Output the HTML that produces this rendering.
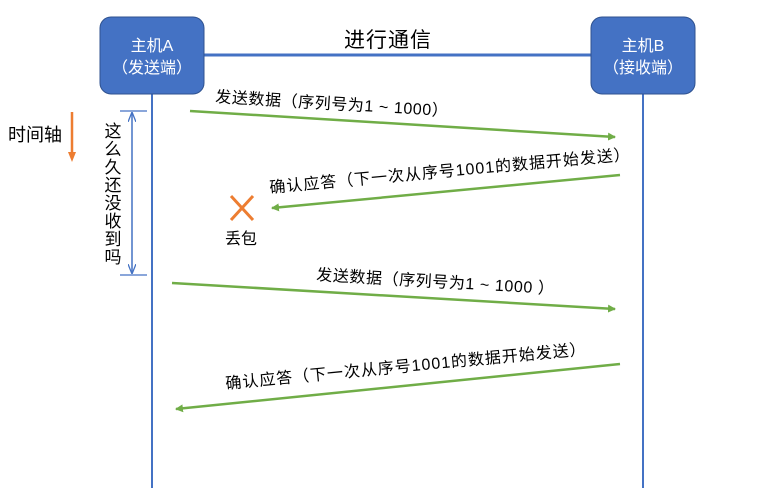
<!DOCTYPE html>
<html><head><meta charset="utf-8"><style>
html,body{margin:0;padding:0;background:#fff;}
svg{display:block;font-family:"Liberation Sans","Noto Sans CJK SC",sans-serif;}
</style></head><body>
<svg width="783" height="504" viewBox="0 0 783 504" xmlns="http://www.w3.org/2000/svg">
<defs>
<marker id="g" markerWidth="8" markerHeight="8" refX="7" refY="4" orient="auto" markerUnits="userSpaceOnUse"><path d="M0,0 L8,4 L0,8 z" fill="#70ad47"/></marker>
<marker id="b" markerWidth="10" markerHeight="8" refX="9" refY="4" orient="auto" markerUnits="userSpaceOnUse"><path d="M0,0 L10,4 L0,8" fill="none" stroke="#4472c4" stroke-width="1.3"/></marker>
<marker id="o" markerWidth="10" markerHeight="10" refX="5" refY="5" orient="auto" markerUnits="userSpaceOnUse"><path d="M0,1 L10,5 L0,9 z" fill="#ed7d31"/></marker>
</defs>
<line x1="204" y1="55" x2="591" y2="55" stroke="#4472c4" stroke-width="3"/>
<line x1="152" y1="94" x2="152" y2="488" stroke="#4472c4" stroke-width="2"/>
<line x1="643" y1="94" x2="643" y2="488" stroke="#4472c4" stroke-width="2"/>
<rect x="100" y="17" width="104" height="77" rx="11" fill="#4472c4" stroke="#2f528f" stroke-width="1"/>
<rect x="591" y="17" width="104" height="77" rx="11" fill="#4472c4" stroke="#2f528f" stroke-width="1"/>
<text x="152" y="51" fill="#fff" font-size="16" text-anchor="middle">主机A</text>
<text x="152" y="73" fill="#fff" font-size="16" text-anchor="middle">（发送端）</text>
<text x="643" y="51" fill="#fff" font-size="16" text-anchor="middle">主机B</text>
<text x="643" y="73" fill="#fff" font-size="16" text-anchor="middle">（接收端）</text>
<text x="388" y="47" font-size="21" text-anchor="middle" fill="#000" letter-spacing="1">进行通信</text>

<text x="8" y="141" font-size="18" fill="#000">时间轴</text>
<line x1="72" y1="112" x2="72" y2="157" stroke="#ed7d31" stroke-width="2.5" marker-end="url(#o)"/>

<line x1="120" y1="111" x2="147" y2="111" stroke="#4472c4" stroke-width="1.2"/>
<line x1="120" y1="275" x2="147" y2="275" stroke="#4472c4" stroke-width="1.2"/>
<line x1="132" y1="140" x2="132" y2="113" stroke="#4472c4" stroke-width="1.5" marker-end="url(#b)"/>
<line x1="132" y1="140" x2="132" y2="273" stroke="#4472c4" stroke-width="1.5" marker-end="url(#b)"/>
<g font-size="17" fill="#000" text-anchor="middle">
<text x="113" y="137">这</text><text x="113" y="155">么</text><text x="113" y="173">久</text><text x="113" y="191">还</text><text x="113" y="209">没</text><text x="113" y="227">收</text><text x="113" y="245">到</text><text x="113" y="263">吗</text>
</g>

<line x1="190" y1="111" x2="615" y2="137" stroke="#70ad47" stroke-width="2.5" marker-end="url(#g)"/>
<text x="215" y="102" font-size="16" letter-spacing="0.6" fill="#000" transform="rotate(3.5 215 102)">发送数据（序列号为1 ~ 1000）</text>

<line x1="620" y1="175" x2="272" y2="208" stroke="#70ad47" stroke-width="2.5" marker-end="url(#g)"/>
<text x="270" y="193" font-size="16" letter-spacing="1" fill="#000" transform="rotate(-5.3 270 193)">确认应答（下一次从序号1001的数据开始发送）</text>

<line x1="231" y1="196" x2="253" y2="220" stroke="#ed7d31" stroke-width="3"/>
<line x1="253" y1="196" x2="231" y2="220" stroke="#ed7d31" stroke-width="3"/>
<text x="241" y="244" font-size="16" fill="#000" text-anchor="middle">丢包</text>

<line x1="172" y1="283" x2="615" y2="309" stroke="#70ad47" stroke-width="2.5" marker-end="url(#g)"/>
<text x="316" y="280" font-size="16" letter-spacing="0.6" fill="#000" transform="rotate(3.4 316 280)">发送数据（序列号为1 ~ 1000 ）</text>

<line x1="620" y1="364" x2="176" y2="409" stroke="#70ad47" stroke-width="2.5" marker-end="url(#g)"/>
<text x="226" y="389" font-size="16" letter-spacing="1" fill="#000" transform="rotate(-5.5 226 389)">确认应答（下一次从序号1001的数据开始发送）</text>
</svg>
</body></html>
